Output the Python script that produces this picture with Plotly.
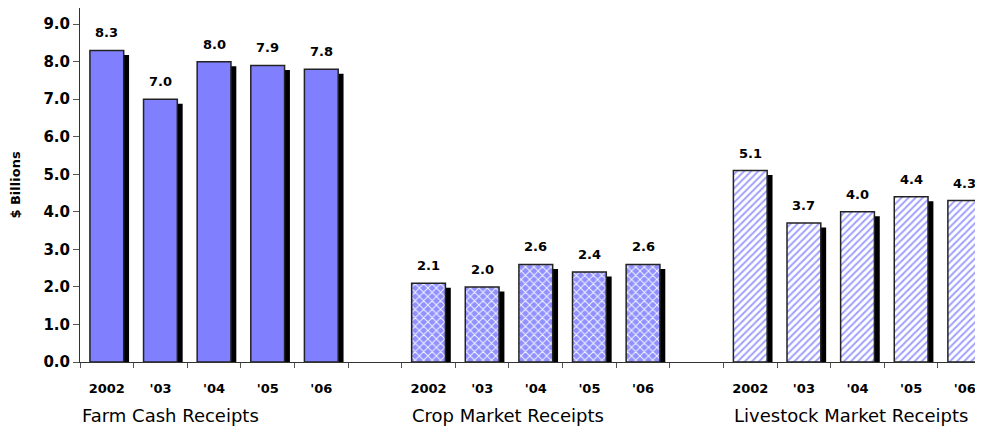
import plotly.graph_objects as go

# ---- data ----
year_labels = ["2002", "'03", "'04", "'05", "'06"]
group_names = ["Farm Cash Receipts", "Crop Market Receipts", "Livestock Market Receipts"]
farm_values = [8.3, 7.0, 8.0, 7.9, 7.8]
crop_values = [2.1, 2.0, 2.6, 2.4, 2.6]
livestock_values = [5.1, 3.7, 4.0, 4.4, 4.3]

# slot positions: 5 bars per group, one empty slot between groups
farm_x = [0, 1, 2, 3, 4]
crop_x = [6, 7, 8, 9, 10]
live_x = [12, 13, 14, 15, 16]
group_centers = [1.18, 7.49, 13.88]

BW = 0.63
SH_DX = 0.1    # shadow horizontal shift (data units)
SH_DY = 0.12   # shadow vertical drop (data units)
BOLD = "DejaVu Sans, Verdana, sans-serif"
OUTLINE = dict(color="#222222", width=1.5)

fig = go.Figure()

groups = [
    (farm_x, farm_values, dict(color="#8080FF", line=OUTLINE)),
    (crop_x, crop_values, dict(color="#A0A0FF", line=OUTLINE,
                               pattern=dict(shape="x", fgcolor="#F4F4FF", bgcolor="#9090FF",
                                            size=6, solidity=0.3, fillmode="replace"))),
    (live_x, livestock_values, dict(color="#FFFFFF", line=OUTLINE,
                                    pattern=dict(shape="/", fgcolor="#A0A0FF", bgcolor="#FFFFFF",
                                                 size=5, solidity=0.4, fillmode="replace"))),
]

for xs, vals, mk in groups:
    # drop shadow
    fig.add_trace(go.Bar(x=xs, y=[v - SH_DY for v in vals], width=BW, offset=-BW / 2 + SH_DX,
                         marker=dict(color="black", line=dict(width=0)),
                         hoverinfo="skip", showlegend=False))
    fig.add_trace(go.Bar(x=xs, y=vals, width=BW, offset=-BW / 2, marker=mk, showlegend=False))
    for x, v in zip(xs, vals):
        fig.add_annotation(x=x, y=v, text=f"{v:.1f}", showarrow=False, yanchor="bottom",
                           yshift=8, font=dict(family=BOLD, size=13, color="black", weight="bold"))

all_x = farm_x + crop_x + live_x
fig.update_layout(
    width=975, height=421,
    margin=dict(l=72, r=0, t=0, b=67),
    barmode="overlay",
    plot_bgcolor="white", paper_bgcolor="white",
    font=dict(family=BOLD, color="black"),
    xaxis=dict(range=[-0.5, 16.34], showgrid=False, zeroline=False,
               showline=True, linecolor="#333333", linewidth=1,
               tickvals=all_x, ticktext=year_labels * 3, ticks="",
               ticklabelstandoff=14,
               tickfont=dict(family=BOLD, size=13, color="black", weight="bold"),
               minor=dict(ticks="outside", tick0=0.5, dtick=1, ticklen=5,
                          tickcolor="#555555", showgrid=False)),
    yaxis=dict(range=[0, 9.43], showgrid=False, zeroline=False,
               showline=True, linecolor="#333333", linewidth=1,
               tickvals=[0, 1, 2, 3, 4, 5, 6, 7, 8, 9], tickformat=".1f",
               ticks="outside", ticklen=6, tickcolor="#555555",
               tickfont=dict(family=BOLD, size=15, color="black", weight="bold"),
               title=dict(text="$ Billions", standoff=20,
                          font=dict(family=BOLD, size=13, color="black", weight="bold"))),
)

for name, cx in zip(group_names, group_centers):
    fig.add_annotation(x=cx, xref="x", y=-0.1525, yref="paper", text=name, showarrow=False,
                       yanchor="middle", font=dict(family=BOLD, size=18, color="black"))

fig.write_html("out.html")
